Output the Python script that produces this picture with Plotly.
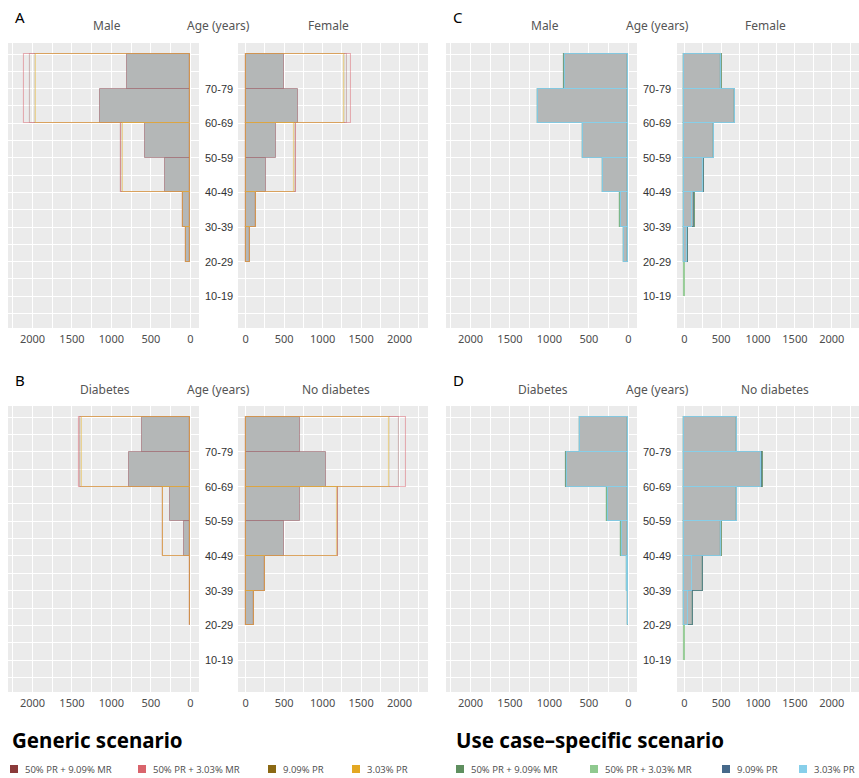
import plotly.graph_objects as go

# ---------------- data ----------------
age_starts = [10, 20, 30, 40, 50, 60, 70]
age_labels = ["10-19", "20-29", "30-39", "40-49", "50-59", "60-69", "70-79"]
x_ticks = [0, 500, 1000, 1500, 2000]

scenario_generic = ["50% PR + 9.09% MR", "50% PR + 3.03% MR", "9.09% PR", "3.03% PR"]
scenario_usecase = ["50% PR + 9.09% MR", "50% PR + 3.03% MR", "9.09% PR", "3.03% PR"]

# observed counts (grey bars), bins 10-19 ... 70-79 (None = no bar)
obs_male = [None, 50, 97, 316, 570, 1140, 800]
obs_female = [None, 52, 134, 260, 398, 684, 497]
obs_diab = [None, 5, 10, 85, 262, 781, 611]
obs_nodiab = [None, 113, 247, 498, 710, 1048, 710]

# generic scenario: bins 20-29, 30-39, 40-59, 60-79
gen_lo = [20, 30, 40, 60]
gen_hi = [30, 40, 60, 80]
gen_male = [[50, 97, 878, 2032], [50, 97, 878, 2104], [50, 97, 860, 1965], [50, 97, 857, 1960]]
gen_female = [[52, 134, 654, 1313], [52, 134, 654, 1365], [52, 134, 635, 1285], [52, 134, 632, 1282]]
gen_diab = [[5, 10, 350, 1400], [5, 10, 352, 1411], [5, 10, 348, 1380], [5, 10, 346, 1376]]
gen_nodiab = [[113, 247, 1204, 1993], [113, 247, 1204, 2085], [113, 247, 1195, 1870], [113, 247, 1191, 1863]]

# use case-specific scenario: bins 10-19 ... 70-79
uc_male = [[None, 52, 102, 320, 575, 1145, 812], [None, 51, 100, 318, 572, 1142, 806],
           [None, 50, 98, 316, 570, 1141, 801], [None, 50, 97, 315, 569, 1140, 800]]
uc_female = [[None, 56, 140, 265, 402, 690, 505], [8, 54, 137, 262, 400, 686, 500],
             [None, 52, 134, 260, 398, 684, 497], [None, 40, 110, 258, 397, 683, 496]]
uc_diab = [[None, 6, 12, 90, 266, 786, 618], [None, 5, 11, 88, 264, 783, 614],
           [None, 10, 10, 85, 262, 781, 611], [None, 5, 18, 84, 261, 780, 610]]
uc_nodiab = [[None, 117, 250, 505, 716, 1062, 718], [8, 115, 248, 500, 713, 1058, 714],
             [None, 113, 247, 498, 710, 1048, 710], [None, 45, 108, 496, 709, 1046, 708]]

# ---------------- styles ----------------
W, H = 859, 778
gen_colors = ["#8b3a3a", "#d9646c", "#8b6914", "#e3a823"]
gen_lines = ["rgba(139,58,58,0.3)", "rgba(220,105,115,0.5)", "rgba(139,105,20,0.15)", "rgba(232,185,60,0.5)"]
uc_colors = ["#5f8f5f", "#8fc98f", "#46698a", "#87cfea"]
uc_lines = ["rgba(80,130,80,0.75)", "rgba(130,195,130,0.8)", "rgba(70,105,138,0.65)", "rgba(135,207,234,0.9)"]
grey_fill = "#b4b7b7"

def px_x(a, b):
    return [a / W, b / W]

def px_y(top, bottom):
    return [1 - bottom / H, 1 - top / H]

top_y = (43, 328)
bot_y = (406, 692)
cols = [(8, 199, True), (238, 428, False), (446, 637, True), (677, 859, False)]
layout_specs = []
for (yt, yb) in [top_y, bot_y]:
    for (xa, xb, rev) in cols:
        layout_specs.append((xa, xb, yt, yb, rev))

fig = go.Figure()

def add_obs(idx, vals, line_col):
    fig.add_trace(go.Bar(
        x=vals, y=[s + 5 for s in age_starts], width=[10] * len(vals), base=0,
        orientation="h", marker=dict(color=grey_fill, line=dict(color=line_col, width=1)),
        xaxis="x%d" % idx, yaxis="y%d" % idx, hoverinfo="skip"))

def add_gen(idx, rows):
    for k, vals in enumerate(rows):
        fig.add_trace(go.Bar(
            x=vals, y=[(a + b) / 2 for a, b in zip(gen_lo, gen_hi)],
            width=[b - a for a, b in zip(gen_lo, gen_hi)], base=0, orientation="h",
            marker=dict(color="rgba(0,0,0,0)", line=dict(color=gen_lines[k], width=1.1)),
            name=scenario_generic[k], xaxis="x%d" % idx, yaxis="y%d" % idx))

def add_uc(idx, rows):
    for k, vals in enumerate(rows):
        fig.add_trace(go.Bar(
            x=vals, y=[s + 5 for s in age_starts], width=[10] * len(vals), base=0,
            orientation="h",
            marker=dict(color="rgba(0,0,0,0)", line=dict(color=uc_lines[k], width=1.1)),
            name=scenario_usecase[k], xaxis="x%d" % idx, yaxis="y%d" % idx))

gen_obs_line = "rgba(150,80,90,0.5)"
uc_obs_line = "rgba(135,207,234,0.8)"
add_obs(1, obs_male, gen_obs_line); add_gen(1, gen_male)
add_obs(2, obs_female, gen_obs_line); add_gen(2, gen_female)
add_obs(3, obs_male, uc_obs_line); add_uc(3, uc_male)
add_obs(4, obs_female, uc_obs_line); add_uc(4, uc_female)
add_obs(5, obs_diab, gen_obs_line); add_gen(5, gen_diab)
add_obs(6, obs_nodiab, gen_obs_line); add_gen(6, gen_nodiab)
add_obs(7, obs_diab, uc_obs_line); add_uc(7, uc_diab)
add_obs(8, obs_nodiab, uc_obs_line); add_uc(8, uc_nodiab)

tick_font = dict(family="Noto Sans", size=11, color="#4d4d4d")
lay = dict(width=W, height=H, margin=dict(l=0, r=0, t=0, b=0), showlegend=False,
           barmode="overlay", bargap=0, plot_bgcolor="#ebebeb", paper_bgcolor="white")
for i, (xa, xb, yt, yb, rev) in enumerate(layout_specs, start=1):
    xr = [2310, -110] if rev else [-100, 2370]
    lay["xaxis%d" % i] = dict(
        domain=px_x(xa, xb), anchor="y%d" % i, range=xr, tickvals=x_ticks,
        ticktext=[str(v) for v in x_ticks], tickfont=tick_font, showgrid=True,
        gridcolor="white", gridwidth=1.1, zeroline=False, showline=False, ticks="",
        ticklabelstandoff=3,
        minor=dict(tickvals=[250, 750, 1250, 1750, 2250], showgrid=True, gridcolor="white", gridwidth=0.5),
        fixedrange=True)
    lay["yaxis%d" % i] = dict(
        domain=px_y(yt, yb), anchor="x%d" % i, range=[0.8, 83.2],
        tickvals=[10, 20, 30, 40, 50, 60, 70, 80], showticklabels=False, showgrid=True,
        gridcolor="white", gridwidth=1.1, zeroline=False, showline=False, ticks="",
        minor=dict(tickvals=[5, 15, 25, 35, 45, 55, 65, 75], showgrid=True, gridcolor="white", gridwidth=0.5),
        fixedrange=True)
fig.update_layout(**lay)

ann = []
hdr_font = dict(family="Noto Sans", size=12, color="#555555")
age_font = dict(family="Liberation Sans", size=11, color="#333333")
panels = [
    ("A", 1, 20, 17, ["Male", "Age (years)", "Female"], [107, 218.5, 328], 26),
    ("C", 3, 458, 17, ["Male", "Age (years)", "Female"], [545, 657, 765], 26),
    ("B", 5, 20, 380, ["Diabetes", "Age (years)", "No diabetes"], [105, 218.5, 336], 390),
    ("D", 7, 458, 380, ["Diabetes", "Age (years)", "No diabetes"], [543, 657, 775], 390),
]
for letter, idx, lx, ly, hdrs, hx, hy in panels:
    ann.append(dict(text=letter, x=lx / W, y=1 - ly / H, xref="paper", yref="paper",
                    xanchor="center", yanchor="middle",
                    showarrow=False, font=dict(family="Noto Sans", size=15, color="black")))
    for t, xx in zip(hdrs, hx):
        ann.append(dict(text=t, x=xx / W, y=1 - hy / H, xref="paper", yref="paper",
                        xanchor="center", yanchor="middle", showarrow=False, font=hdr_font))
    gap_c = hx[1]
    for s, lab in zip(age_starts, age_labels):
        ann.append(dict(text=lab, x=gap_c / W, y=s, xref="paper", yref="y%d" % idx,
                        xanchor="center", yanchor="middle", showarrow=False, font=age_font))

# bottom legends
title_font = dict(family="Noto Sans", size=20.5, color="black")
ann.append(dict(text="<b>Generic scenario</b>", x=10 / W, y=1 - 740 / H, xref="paper", yref="paper",
                xanchor="left", yanchor="middle", showarrow=False, font=title_font))
ann.append(dict(text="<b>Use case\u2013specific scenario</b>", x=454 / W, y=1 - 740 / H, xref="paper",
                yref="paper", xanchor="left", yanchor="middle", showarrow=False, font=title_font))
leg_font = dict(family="Open Sans", size=9.5, color="#4d4d4d")
shapes = []
gen_sq = [10, 138, 268, 352]
uc_sq = [456, 590, 722, 799]
ly_c = 769
for names, cols_, sqs in [(scenario_generic, gen_colors, gen_sq), (scenario_usecase, uc_colors, uc_sq)]:
    for n, c, sx in zip(names, cols_, sqs):
        shapes.append(dict(type="rect", xref="paper", yref="paper", x0=sx / W, x1=(sx + 8) / W,
                           y0=1 - (ly_c + 4) / H, y1=1 - (ly_c - 4) / H, fillcolor=c, line=dict(width=0)))
        ann.append(dict(text=n, x=(sx + 13) / W, y=1 - ly_c / H, xref="paper", yref="paper",
                        xanchor="left", yanchor="middle", showarrow=False, font=leg_font))
fig.update_layout(annotations=ann, shapes=shapes)

fig.write_html("out.html", config={"displayModeBar": False},
               post_script="document.body.style.margin='0';document.body.style.overflow='hidden';")
